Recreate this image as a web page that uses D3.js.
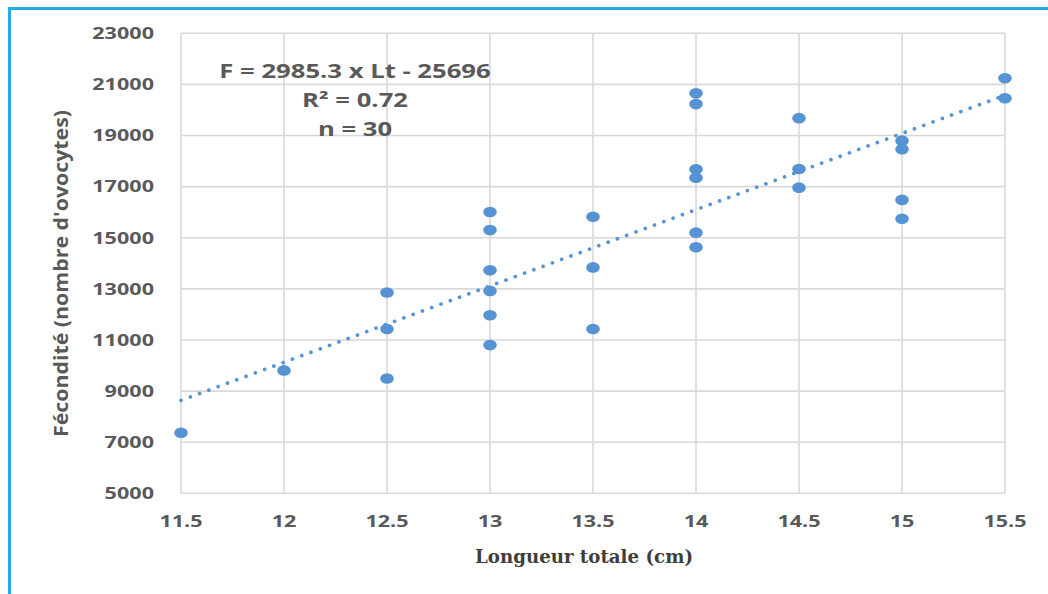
<!DOCTYPE html>
<html>
<head>
<meta charset="utf-8">
<script src="https://cdn.jsdelivr.net/npm/d3@7"></script>
<style>
  body { margin: 0; background: #fff; }
  svg { display: block; }
</style>
</head>
<body>
<svg id="chart" width="1048" height="594"></svg>
<script>
// Total length (cm) of each female and its fecundity (number of oocytes)
const lengthCm = [
  11.5,
  12,
  12.5, 12.5, 12.5,
  13, 13, 13, 13, 13, 13,
  13.5, 13.5, 13.5,
  14, 14, 14, 14, 14, 14,
  14.5, 14.5, 14.5,
  15, 15, 15, 15,
  15.5, 15.5
];
const fecundity = [
  7370,
  9810,
  12860, 11430, 9490,
  16010, 15300, 13730, 12920, 11970, 10800,
  15820, 13840, 11430,
  20650, 20230, 17680, 17350, 15200, 14630,
  19680, 17690, 16960,
  18800, 18460, 16480, 15740,
  21240, 20460
];

// Axis ticks
const xTicks = [11.5, 12, 12.5, 13, 13.5, 14, 14.5, 15, 15.5];
const yTicks = [5000, 7000, 9000, 11000, 13000, 15000, 17000, 19000, 21000, 23000];

// Linear fit F = a * Lt + b
const slope = 2985.3;
const intercept = -25696;
const rSquared = 0.72;
const sampleSize = 30;
const fitLabels = [
  "F = " + slope + " x Lt - " + Math.abs(intercept),
  "R\u00B2 = " + rSquared,
  "n = " + sampleSize
];

const xTitle = "Longueur totale (cm)";
const yTitle = "F\u00E9condit\u00E9 (nombre d'ovocytes)";

const svg = d3.select("#chart");
const W = 1048, H = 594;
const plot = { left: 181, right: 1005, top: 33.3, bottom: 493.3 };

const x = d3.scaleLinear().domain([11.5, 15.5]).range([plot.left, plot.right]);
const y = d3.scaleLinear().domain([5000, 23000]).range([plot.bottom, plot.top]);

const blue = "#5593d4";
const gridColor = "#d9d9d9";
const textColor = "#595959";
const sans = "'Open Sans', 'Noto Sans', sans-serif";
const stretch = 1.35;

svg.append("rect").attr("width", W).attr("height", H).attr("fill", "#fff");

// Frame (top and left edges)
svg.append("line")
  .attr("x1", 8).attr("x2", W).attr("y1", 8.5).attr("y2", 8.5)
  .attr("stroke", "#27a9e1").attr("stroke-width", 3);
svg.append("line")
  .attr("x1", 9.5).attr("x2", 9.5).attr("y1", 7).attr("y2", H)
  .attr("stroke", "#27a9e1").attr("stroke-width", 3);

// Gridlines
const grid = svg.append("g");
grid.selectAll("line.v").data(xTicks).join("line")
  .attr("class", "v")
  .attr("x1", d => x(d)).attr("x2", d => x(d))
  .attr("y1", y(5000)).attr("y2", y(23000))
  .attr("stroke", gridColor).attr("stroke-width", 1.6);
grid.selectAll("line.h").data(yTicks).join("line")
  .attr("class", "h")
  .attr("x1", x(11.5)).attr("x2", x(15.5))
  .attr("y1", d => y(d)).attr("y2", d => y(d))
  .attr("stroke", gridColor).attr("stroke-width", 1.6);

// Tick labels
function stretchedText(g, px, py, str, anchor) {
  return g.append("text")
    .attr("transform", `translate(${px},${py}) scale(${stretch},1)`)
    .attr("text-anchor", anchor)
    .attr("font-family", sans)
    .attr("font-weight", 700)
    .attr("fill", textColor)
    .text(str);
}
const yLab = svg.append("g").attr("font-size", 16);
yTicks.forEach(t => stretchedText(yLab, plot.left - 27, y(t) + 5.8, d3.format("d")(t), "end"));
const xLab = svg.append("g").attr("font-size", 16);
xTicks.forEach(t => stretchedText(xLab, x(t), 527, String(t), "middle"));

// Fitted line, dotted
const fitLine = d3.line().x(d => x(d)).y(d => y(slope * d + intercept));
svg.append("path")
  .attr("d", fitLine([11.5, 15.5]))
  .attr("fill", "none")
  .attr("stroke", blue)
  .attr("stroke-width", 3.6)
  .attr("stroke-linecap", "round")
  .attr("stroke-dasharray", "0.1 9.8");

// Observations
svg.append("g").selectAll("ellipse")
  .data(lengthCm.map((l, i) => [l, fecundity[i]]))
  .join("ellipse")
  .attr("cx", d => x(d[0]))
  .attr("cy", d => y(d[1]))
  .attr("rx", 6.8)
  .attr("ry", 5.3)
  .attr("fill", blue);

// Fit equation, R² and sample size
const eq = svg.append("g").attr("font-size", 19);
fitLabels.forEach((s, i) => stretchedText(eq, 355, 78 + i * 29, s, "middle"));

// Axis titles
svg.append("text")
  .attr("transform", "translate(68,273.5) rotate(-90)")
  .attr("text-anchor", "middle")
  .attr("font-family", sans)
  .attr("font-weight", 700)
  .attr("font-size", 19)
  .attr("fill", textColor)
  .attr("textLength", 327)
  .attr("lengthAdjust", "spacingAndGlyphs")
  .text(yTitle);

svg.append("text")
  .attr("x", 584)
  .attr("y", 563)
  .attr("text-anchor", "middle")
  .attr("font-family", "'DejaVu Serif', 'Liberation Serif', serif")
  .attr("font-weight", 700)
  .attr("font-size", 18)
  .attr("fill", "#3f3d3d")
  .attr("textLength", 218)
  .attr("lengthAdjust", "spacingAndGlyphs")
  .text(xTitle);
</script>
</body>
</html>
